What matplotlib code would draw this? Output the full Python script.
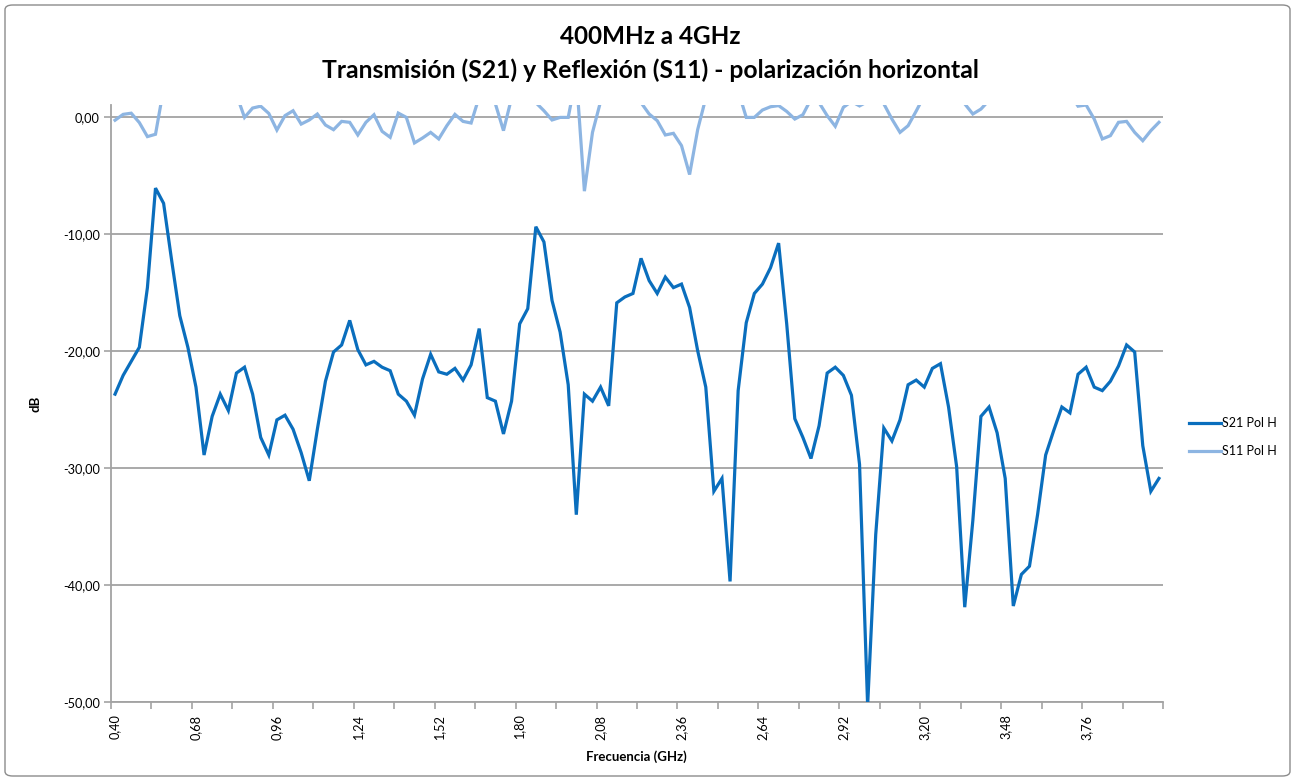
import matplotlib
matplotlib.use("Agg")
import matplotlib.pyplot as plt
from matplotlib.patches import FancyBboxPatch
import numpy as np

plt.rcParams['font.family'] = ['Lato', 'DejaVu Sans']

# S21 transmission (dB), one value per frequency category
s21 = [-23.7, -22.1, -20.9, -19.7, -14.6, -6.1, -7.4, -12.3, -17.0, -19.7,
       -23.1, -28.9, -25.6, -23.7, -25.1, -21.9, -21.4, -23.7, -27.4, -28.9,
       -25.9, -25.5, -26.7, -28.7, -31.1, -26.7, -22.6, -20.1, -19.5, -17.4,
       -19.9, -21.2, -20.9, -21.4, -21.7, -23.7, -24.3, -25.5, -22.4, -20.3,
       -21.8, -22.0, -21.5, -22.5, -21.2, -18.1, -24.0, -24.3, -27.1, -24.3,
       -17.7, -16.4, -9.4, -10.7, -15.7, -18.4, -22.9, -34.0, -23.7, -24.3,
       -23.1, -24.7, -15.9, -15.4, -15.1, -12.1, -14.0, -15.1, -13.7, -14.6,
       -14.3, -16.3, -20.0, -23.1, -32.0, -30.9, -39.7, -23.4, -17.6, -15.1,
       -14.3, -12.9, -10.8, -17.7, -25.8, -27.4, -29.2, -26.4, -21.9, -21.4,
       -22.1, -23.8, -29.7, -50.3, -35.7, -26.6, -27.7, -25.9, -22.9, -22.5,
       -23.1, -21.5, -21.1, -24.8, -29.9, -41.9, -34.5, -25.6, -24.8, -27.0,
       -30.9, -41.8, -39.1, -38.4, -34.0, -28.9, -26.8, -24.8, -25.3, -22.0,
       -21.4, -23.1, -23.4, -22.6, -21.3, -19.5, -20.1, -28.1, -32.0, -30.9]

# S11 reflection (dB)
s11 = [-0.3, 0.2, 0.3, -0.5, -1.7, -1.5, 2.4, 3.0, 3.5, 3.0,
       3.5, 4.0, 3.0, 3.5, 3.0, 1.9, -0.06, 0.74, 0.9, 0.28,
       -1.14, 0.09, 0.51, -0.63, -0.28, 0.23, -0.71, -1.11, -0.40, -0.48,
       -1.56, -0.48, 0.17, -1.25, -1.76, 0.31, -0.06, -2.24, -1.82, -1.34,
       -1.90, -0.77, 0.20, -0.40, -0.54, 1.7, 2.5, 1.1, -1.19, 1.6,
       2.5, 2.0, 1.2, 0.51, -0.28, -0.06, -0.06, 3.5, -6.36, -1.34,
       1.3, 2.5, 3.0, 2.5, 2.0, 1.2, 0.23, -0.34, -1.56, -1.42,
       -2.47, -4.94, -1.1, 1.6, 2.5, 3.0, 2.8, 2.2, -0.06, -0.06,
       0.57, 0.85, 0.95, 0.45, -0.2, 0.17, 1.5, 1.2, 0.09, -0.82,
       0.8, 1.3, 0.92, 1.3, 1.5, 1.1, -0.2, -1.34, -0.77, 0.48,
       1.8, 2.5, 3.0, 2.5, 2.0, 1.1, 0.23, 0.65, 1.4, 2.5,
       3.0, 3.5, 3.0, 2.5, 3.0, 3.5, 3.0, 2.5, 2.0, 0.9,
       1.0, -0.2, -1.9, -1.62, -0.48, -0.40, -1.34, -2.05, -1.19, -0.48]

tick_labels = ["0,40", "0,68", "0,96", "1,24", "1,52", "1,80", "2,08",
               "2,36", "2,64", "2,92", "3,20", "3,48", "3,76"]
y_ticks = [0, -10, -20, -30, -40, -50]
y_tick_labels = ["0,00", "-10,00", "-20,00", "-30,00", "-40,00", "-50,00"]

c_s21 = "#0A6EBD"
c_s11 = "#8DB5E2"
grid_c = "#A3A3A3"

fig = plt.figure(figsize=(12.95, 7.8), dpi=100)
fig.patch.set_facecolor("white")

# chart-area border
fig.patches.append(FancyBboxPatch((5 / 1295, 4 / 780), 1285 / 1295, 771 / 780,
                                  boxstyle="round,pad=0,rounding_size=0.006",
                                  transform=fig.transFigure, fill=False,
                                  edgecolor="#8C8C8C", linewidth=1.0))

ax = fig.add_axes([111 / 1295, 1 - 702 / 780, (1163 - 111) / 1295, (702 - 105) / 780])

n = len(s21)
cats = np.arange(n)
l1, = ax.plot(cats, s21, color=c_s21, lw=2.3, solid_joinstyle="miter", label="S21 Pol H", zorder=3)
l2, = ax.plot(cats, s11, color=c_s11, lw=2.3, solid_joinstyle="miter", label="S11 Pol H", zorder=3)

ax.set_xlim(-0.5, n - 0.5)
ax.set_ylim(-50, 1.0)

# y axis
ax.set_yticks(y_ticks)
ax.set_yticklabels(y_tick_labels, fontsize=9.2)
ax.yaxis.grid(True, color=grid_c, lw=1.3)
ax.set_axisbelow(True)

# x axis: tick marks between every 5 categories, labels every 10 categories
ax.set_xticks(np.arange(-0.5, n, 5))
ax.set_xticklabels([])
ax.set_xticks(np.arange(0, n, 10)[:len(tick_labels)], minor=True)
ax.set_xticklabels(tick_labels, minor=True, rotation=90, fontsize=9.2)
ax.tick_params(axis="x", which="major", length=5, color=grid_c, width=1.2, direction="out")
ax.tick_params(axis="x", which="minor", length=0, pad=9)
ax.tick_params(axis="y", length=5, color=grid_c, width=1.2, direction="out", pad=3)

for s in ["top", "right"]:
    ax.spines[s].set_visible(False)
for s in ["left", "bottom"]:
    ax.spines[s].set_color(grid_c)
    ax.spines[s].set_linewidth(1.3)

ax.set_ylabel("dB", fontsize=9.5, fontweight="bold")
ax.yaxis.set_label_coords(-0.066, 0.5)
fig.text(636 / 1295, 1 - 757 / 780, "Frecuencia (GHz)", ha="center", va="center",
         fontsize=9.5, fontweight="bold")

fig.text(650 / 1295, 1 - 37 / 780, "400MHz a 4GHz", ha="center", va="center",
         fontsize=17.5, fontweight="bold")
fig.text(650 / 1295, 1 - 70 / 780, "Transmisión (S21) y Reflexión (S11) - polarización horizontal",
         ha="center", va="center", fontsize=17.8, fontweight="bold")

fig.legend(handles=[l1, l2], loc="center left", bbox_to_anchor=(1178 / 1295, 1 - 437 / 780),
           frameon=False, fontsize=9, handlelength=2.5, handletextpad=0.15, labelspacing=1.3)

fig.savefig("out.png", dpi=100, facecolor="white")
